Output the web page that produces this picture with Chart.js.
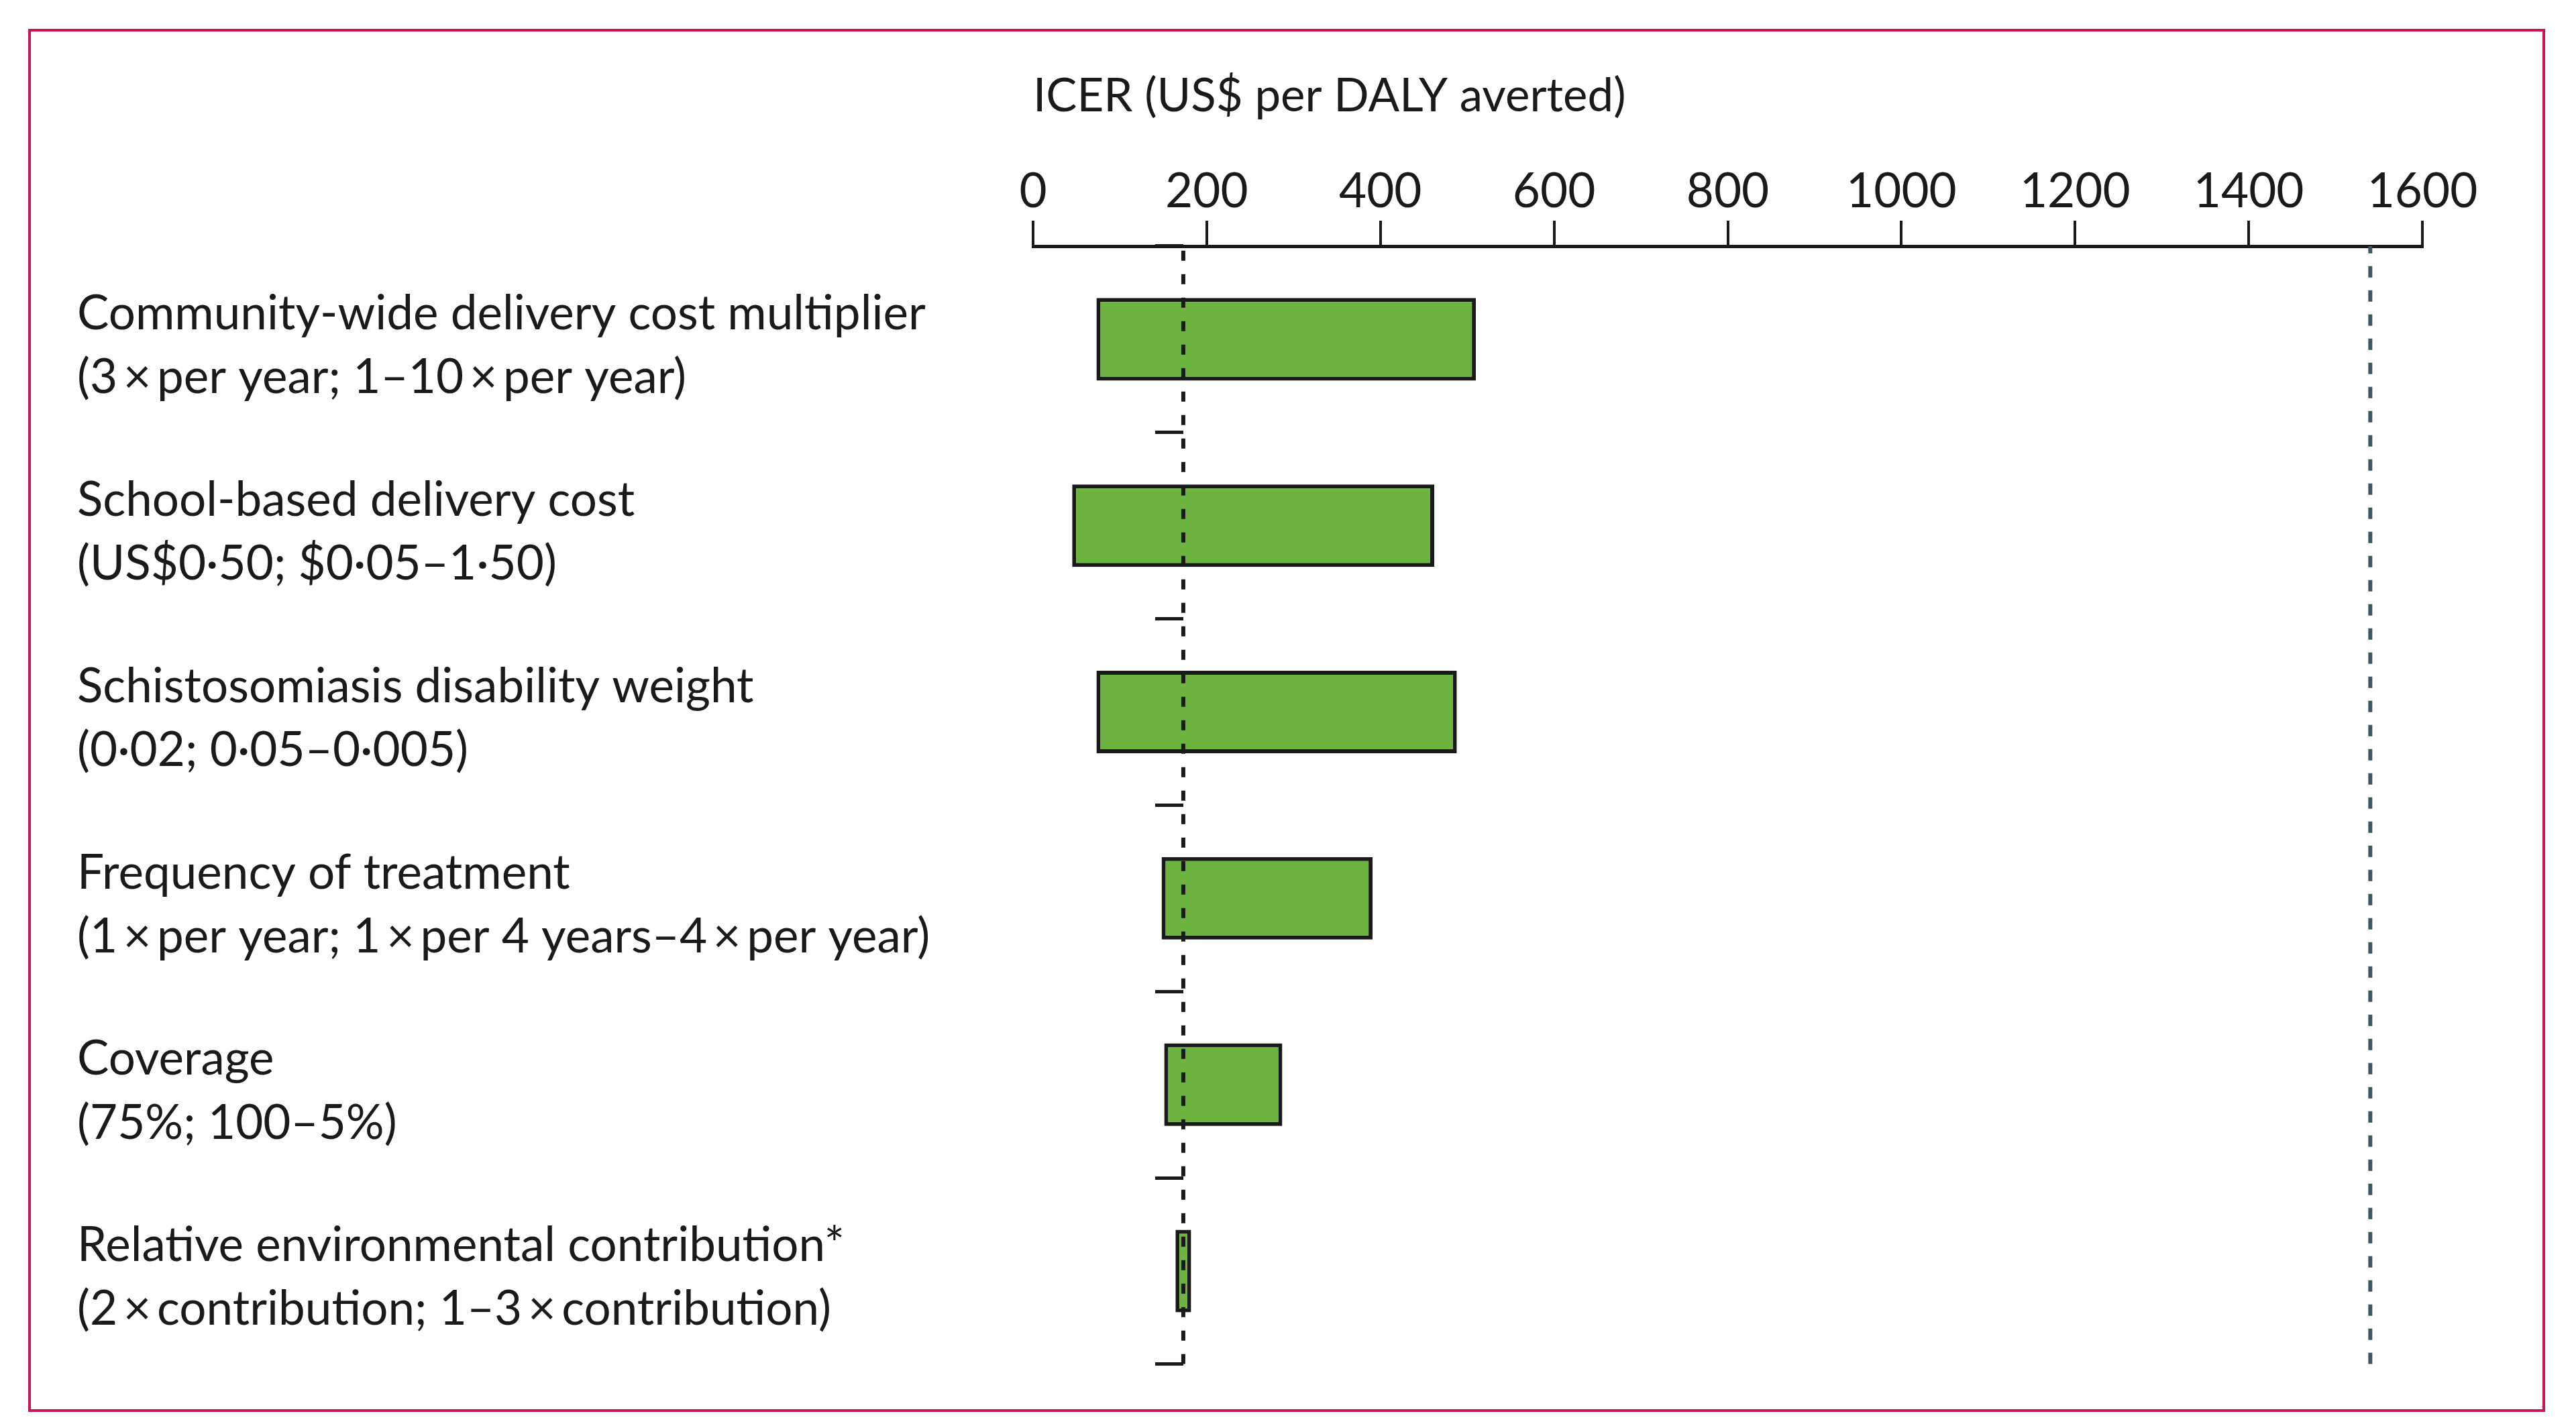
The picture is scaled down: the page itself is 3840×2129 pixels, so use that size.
<!DOCTYPE html>
<html>
<head>
<meta charset="utf-8">
<script src="https://cdn.jsdelivr.net/npm/chart.js@4.4.0/dist/chart.umd.min.js"></script>
<style>
  html, body { margin: 0; padding: 0; background: #fff; }
  #frame {
    position: absolute; left: 42px; top: 43px; width: 3752px; height: 2062px;
    box-sizing: border-box; border: 4px solid #c8174f;
  }
  #wrap { position: absolute; left: 0; top: 0; width: 3840px; height: 2129px; }
</style>
</head>
<body>
<div id="frame"></div>
<div id="wrap"><canvas id="tornado"></canvas></div>
<script>
// parameters (base value; range tested)
const parameters = [
    ['Community-wide delivery cost multiplier', '(3\u2009×\u2009per year; 1–10\u2009×\u2009per year)'],
    ['School-based delivery cost', '(US$0·50; $0·05–1·50)'],
    ['Schistosomiasis disability weight', '(0·02; 0·05–0·005)'],
    ['Frequency of treatment', '(1\u2009×\u2009per year; 1\u2009×\u2009per 4 years–4\u2009×\u2009per year)'],
    ['Coverage', '(75%; 100–5%)'],
    ['Relative environmental contribution*', '(2\u2009×\u2009contribution; 1–3\u2009×\u2009contribution)']
];
// ICER range (US$ per DALY averted) for low/high parameter value
const icerLow  = [73, 45, 73, 148, 151, 164];
const icerHigh = [510, 462, 488, 391, 287, 182];

const baseIcer = 173;     // base-case ICER, dashed black line
const threshold = 1540;   // cost-effectiveness threshold, grey dashed line
const xTicks = [0, 200, 400, 600, 800, 1000, 1200, 1400, 1600];

const FONT = 'Lato';
const INK = '#1a1a1a';

const ranges = icerLow.map((v, i) => [v, icerHigh[i]]);

// vertical reference line spanning the whole plot height (0..1 on a hidden axis)
function vline(x, color, dash) {
    return {
        type: 'line',
        data: [{ x: x, y: 0 }, { x: x, y: 1 }],
        yAxisID: 'span',
        borderColor: color,
        borderWidth: 6,
        borderDash: dash,
        pointRadius: 0,
        fill: false,
        order: 0
    };
}

new Chart(document.getElementById('tornado'), {
    type: 'bar',
    data: {
        labels: parameters,
        datasets: [{
            data: ranges,
            backgroundColor: '#6db33f',
            borderColor: INK,
            borderWidth: 6,
            borderSkipped: false,
            barPercentage: 0.443,
            categoryPercentage: 1,
            grouped: false,
            order: 1
        },
        vline(baseIcer, INK, [15, 20]),
        vline(threshold, '#3a5764', [17, 19])]
    },
    options: {
        indexAxis: 'y',
        responsive: true,
        maintainAspectRatio: false,
        devicePixelRatio: 1,
        animation: false,
        layout: { padding: { left: 115, right: 229, top: 90, bottom: 94 } },
        plugins: { legend: { display: false }, tooltip: { enabled: false } },
        scales: {
            x: {
                type: 'linear',
                position: 'top',
                offset: false,
                min: xTicks[0],
                max: xTicks[xTicks.length - 1],
                afterBuildTicks: (s) => { s.ticks = xTicks.map(v => ({ value: v })); },
                afterFit: (s) => { s.height = 277; },
                ticks: { font: { family: FONT, size: 71 }, color: INK, padding: 0, callback: (v) => String(v) },
                grid: { offset: false, drawOnChartArea: false, tickLength: 38, lineWidth: 4, color: INK },
                border: { width: 5, color: INK },
                title: {
                    display: true, text: 'ICER (US$ per DALY averted)', align: 'start',
                    font: { family: FONT, size: 69 }, color: INK, padding: { top: 12, bottom: 0 }
                }
            },
            y: {
                type: 'category',
                position: 'left',
                afterFit: (s) => { s.width = 1425; },
                ticks: {
                    font: { family: FONT, size: 71, lineHeight: 1.34 }, color: INK,
                    crossAlign: 'far', padding: 0, labelOffset: 10
                },
                grid: { display: false },
                border: { display: false }
            },
            base: {
                type: 'category',
                axis: 'y',
                position: { x: baseIcer },
                offset: true,
                ticks: { display: false },
                grid: { offset: true, drawOnChartArea: false, tickLength: 42, lineWidth: 5, color: INK },
                border: { display: false }
            },
            span: {
                type: 'linear',
                axis: 'y',
                min: 0,
                max: 1,
                offset: false,
                grid: { offset: false },
                display: false
            }
        }
    }
});
</script>
</body>
</html>
